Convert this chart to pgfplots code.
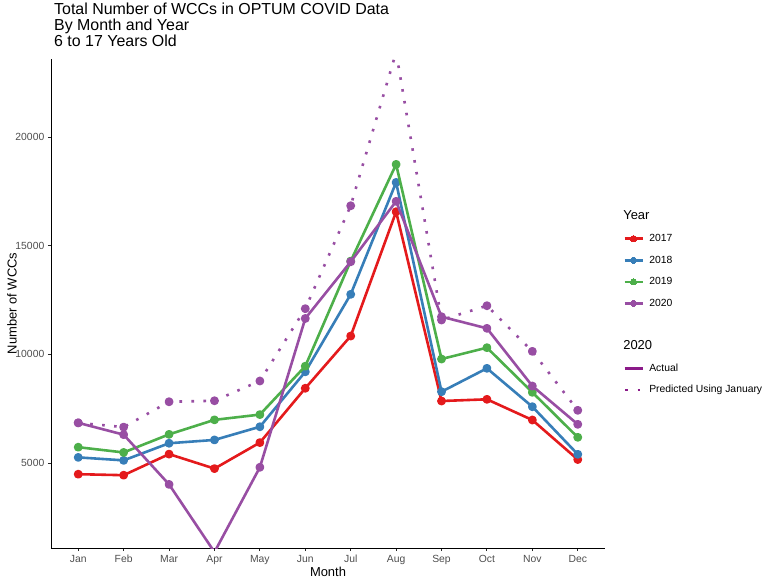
\documentclass[border=0pt]{standalone}
\usepackage{pgfplots}
\pgfplotsset{compat=1.18}
\usepackage{fontspec}
\setmainfont{Liberation Sans}
\definecolor{c17}{HTML}{E41A1C}
\definecolor{c18}{HTML}{377EB8}
\definecolor{c19}{HTML}{4DAF4A}
\definecolor{c20}{HTML}{984EA3}
\definecolor{act}{HTML}{8B1A89}
\definecolor{grayt}{HTML}{4D4D4D}
\pgfplotsset{
  yearleg/.style={legend image code/.code={\draw[##1, line width=2.6bp] (0bp,0bp) -- (18bp,0bp); \fill[##1, line width=0pt] (9bp,0bp) circle (3.1bp);}},
  actleg/.style={legend image code/.code={\draw[##1, line width=2.6bp] (0bp,0bp) -- (18bp,0bp);}},
  predleg/.style={legend image code/.code={\draw[##1, line width=2.6bp, line cap=butt, dash pattern=on 2.6bp off 10bp] (0.5bp,0bp) -- (18bp,0bp);}},
}
\begin{document}
\begin{tikzpicture}
\useasboundingbox (-51bp,-32bp) rectangle (726bp,548bp);
\begin{axis}[
  at={(0,0)}, anchor=south west,
  scale only axis, width=554bp, height=489bp,
  xmin=0.4, xmax=12.6, ymin=1089, ymax=23588,
  axis x line*=bottom, axis y line*=left,
  axis line style={line width=0.9bp, black},
  xtick={1,2,3,4,5,6,7,8,9,10,11,12},
  xticklabels={Jan,Feb,Mar,Apr,May,Jun,Jul,Aug,Sep,Oct,Nov,Dec},
  ytick={5000,10000,15000,20000},
  scaled y ticks=false,
  tick align=outside, major tick length=3.2bp,
  tick style={line width=0.9bp, color=black!85},
  ticklabel style={font=\fontsize{10.4}{12}\selectfont, text=grayt},
  xticklabel style={text height=7.6bp, text depth=2.2bp},
  /pgf/number format/assume math mode=true,
  /pgf/number format/1000 sep={},
  xlabel={Month}, ylabel={Number of WCCs},
  label style={font=\fontsize{13}{15}\selectfont},
  xlabel style={at={(axis description cs:0.5,-0.049)}, anchor=center},
  ylabel style={at={(axis description cs:-0.0704,0.5)}, anchor=center},
  clip marker paths=true,
  every axis plot/.append style={line width=2.6bp, line join=round, mark=*, mark size=3.1bp, mark options={solid}},
  legend style={draw=none, fill=none, at={(axis description cs:1.0325,0.691)}, anchor=north west,
    font=\fontsize{10.4}{12}\selectfont, row sep=8.1bp, column sep=4bp, inner sep=0pt,
    nodes={inner sep=1.5bp, text height=8bp, text depth=2.5bp}},
  legend cell align=left,
]
\addplot[color=c20, dash pattern=on 2.6bp off 9.4bp, forget plot] coordinates {
(1,6848) (2,6651) (3,7818) (4,7864) (5,8773) (6,12100) (7,16836) (8,23900) (9,11580) (10,12236) (11,10138) (12,7424)};
\addplot[color=c17, forget plot] coordinates {
(1,4485) (2,4439) (3,5409) (4,4742) (5,5939) (6,8439) (7,10842) (8,16560) (9,7852) (10,7930) (11,6978) (12,5160)};
\addplot[color=c18, forget plot] coordinates {
(1,5258) (2,5121) (3,5909) (4,6061) (5,6667) (6,9197) (7,12760) (8,17910) (9,8280) (10,9356) (11,7590) (12,5400)};
\addplot[color=c19, forget plot] coordinates {
(1,5727) (2,5485) (3,6318) (4,6985) (5,7227) (6,9454) (7,14290) (8,18740) (9,9784) (10,10306) (11,8252) (12,6182)};
\addplot[color=c20, forget plot] coordinates {
(1,6848) (2,6303) (3,4015) (4,900) (5,4803) (6,11650) (7,14260) (8,17040) (9,11730) (10,11196) (11,8542) (12,6780)};

\addlegendimage{empty legend}
\addlegendentry{\hspace*{-26bp}\fontsize{13}{15}\selectfont Year}
\addlegendimage{color=c17, yearleg}
\addlegendentry{2017}
\addlegendimage{color=c18, yearleg}
\addlegendentry{2018}
\addlegendimage{color=c19, yearleg}
\addlegendentry{2019}
\addlegendimage{color=c20, yearleg}
\addlegendentry{2020}
\addlegendimage{empty legend}
\addlegendentry{}
\addlegendimage{empty legend}
\addlegendentry{\hspace*{-26bp}\fontsize{13}{15}\selectfont 2020}
\addlegendimage{color=act, actleg}
\addlegendentry{Actual}
\addlegendimage{color=act, predleg}
\addlegendentry{Predicted Using January}
\end{axis}
\node[anchor=north west, align=left, inner sep=0pt, font=\fontsize{16}{15.8}\selectfont]
  at (3bp,545bp) {Total Number of WCCs in OPTUM COVID Data\\By Month and Year\\6 to 17 Years Old};
\end{tikzpicture}
\end{document}
